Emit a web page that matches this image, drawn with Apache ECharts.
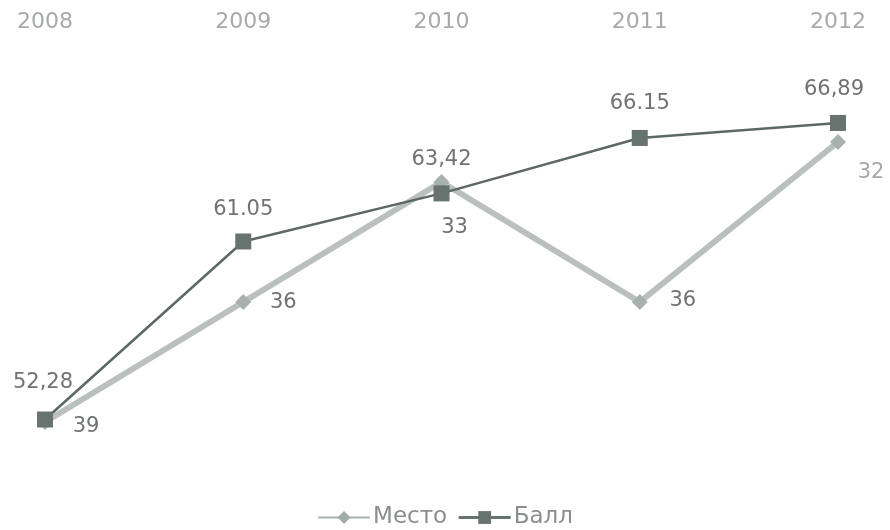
<!DOCTYPE html>
<html><head><meta charset="utf-8">
<script src="https://cdn.jsdelivr.net/npm/echarts@6/dist/echarts.min.js"></script>
<style>html,body{margin:0;padding:0;background:#fff}#c{width:890px;height:530px}</style>
</head><body><div id="c"></div>
<script>
const years = ['2008','2009','2010','2011','2012'];
const mesto = [39, 36, 33, 36, 32];
const ball = [52.28, 61.05, 63.42, 66.15, 66.89];
const ballLabels = ['52,28','61.05','63,42','66.15','66,89'];

// label offsets (style config): centre of label relative to the point
const mestoLabelOffset = [[41, 5], [40, 1], [13, 46], [43, -1], [33, 31]];
const ballLabelOffset = [[-2, -37], [0, -32], [0, -34], [0, -34], [-4, -33]];

const LABEL_FONT = 'DejaVu Sans, Liberation Sans, sans-serif';
const chart = echarts.init(document.getElementById('c'));
chart.setOption({
  animation: false,
  backgroundColor: '#ffffff',
  textStyle: { fontFamily: 'Liberation Sans, Arial, sans-serif' },
  grid: { left: 45, right: 52, top: 100, bottom: 90 },
  legend: {
    bottom: -4, left: 'center', itemGap: 10, itemWidth: 52, itemHeight: 16,
    textStyle: { color: '#8a8f8d', fontSize: 23, fontFamily: LABEL_FONT, padding: [0, 0, 0, -2] },
    data: [
      { name: 'Место', itemStyle: { color: '#a3aba8' }, lineStyle: { color: '#a9b1ae', width: 2 } },
      { name: 'Балл', itemStyle: { color: '#66736e' }, lineStyle: { color: '#66736e', width: 3 } }
    ]
  },
  xAxis: {
    type: 'category', data: years, position: 'top', boundaryGap: false,
    axisLine: { show: false }, axisTick: { show: false },
    axisLabel: { color: '#a6abaa', fontSize: 22, fontFamily: LABEL_FONT, margin: 67 },
    splitLine: { show: false }
  },
  yAxis: [
    { type: 'value', inverse: true, min: 30.95, max: 39.45, show: false, splitLine: { show: false } },
    { type: 'value', min: 51.27, max: 68.02, show: false, splitLine: { show: false } }
  ],
  series: [
    {
      name: 'Место', type: 'line', yAxisIndex: 0,
      data: mesto.map((v, i) => ({
        value: v,
        label: {
          position: [8 + mestoLabelOffset[i][0], 8 + mestoLabelOffset[i][1]],
          color: i === 4 ? '#a4a8a6' : '#6f7371'
        }
      })),
      symbol: 'diamond', symbolSize: 16,
      lineStyle: { color: '#b9c0bd', width: 6 },
      itemStyle: { color: '#a9b1ae' },
      label: { show: true, fontSize: 21, fontFamily: LABEL_FONT, align: 'center', verticalAlign: 'middle' },
      z: 2
    },
    {
      name: 'Балл', type: 'line', yAxisIndex: 1,
      data: ball.map((v, i) => ({
        value: v,
        label: { position: [8 + ballLabelOffset[i][0], 8 + ballLabelOffset[i][1]] }
      })),
      symbol: 'rect', symbolSize: 16,
      lineStyle: { color: '#5c6863', width: 2.5 },
      itemStyle: { color: '#66736e' },
      label: { show: true, color: '#6f7371', fontSize: 21, fontFamily: LABEL_FONT,
        align: 'center', verticalAlign: 'middle',
        formatter: p => ballLabels[p.dataIndex] },
      z: 3
    }
  ]
});
</script>
</body></html>
